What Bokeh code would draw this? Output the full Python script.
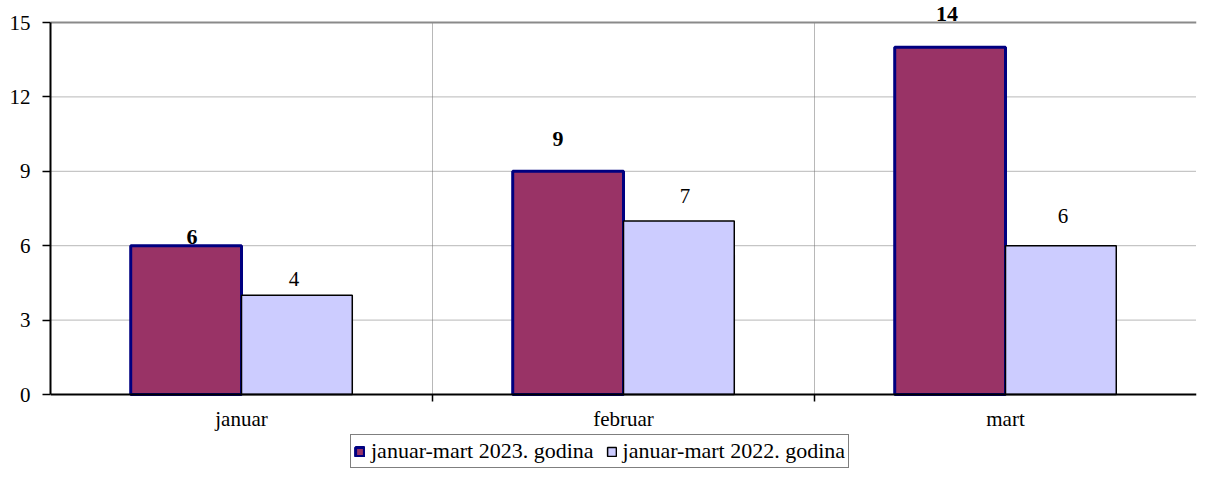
from bokeh.plotting import figure
from bokeh.models import (ColumnDataSource, FixedTicker, LabelSet, Legend,
                          LegendItem, Range1d)
from bokeh.embed import file_html
from bokeh.resources import INLINE

# ---- data ----
categories = ["januar", "februar", "mart"]
series_2023 = [6, 9, 14]
series_2022 = [4, 7, 6]
series_names = ["januar-mart 2023. godina", "januar-mart 2022. godina"]
y_ticks = [0, 3, 6, 9, 12, 15]

# ---- style / layout ----
FONT = "Liberation Serif"
BAR_W = 0.29
C23_FILL, C23_LINE = "#993366", "#000080"
C22_FILL, C22_LINE = "#CCCCFF", "#000000"
GRID_C = "#707070"
off23_x, off23_y = [6, -10, -3], [9, 32, 33]
off22_x, off22_y = [-3, 6, 2], [16, 25, 30]

FIG_W, FIG_H = 1198, 468
BORDER_L, BORDER_T, BORDER_R = 50, 2, 2
TOP_TICK_PX, ZERO_PX = 22, 394      # screen y of top tick and of zero line
y_min, y_max = y_ticks[0], y_ticks[-1]
ppu = (ZERO_PX - TOP_TICK_PX) / (y_max - y_min)
y_end = y_max + (TOP_TICK_PX - BORDER_T) / ppu
y_start = y_min - (FIG_H - ZERO_PX) / ppu

n = len(categories)
centers = [i + 0.5 for i in range(n)]
dividers = [i for i in range(1, n)]

src23 = ColumnDataSource(dict(
    x=[c - BAR_W / 2 for c in centers], top=series_2023,
    label=[str(v) for v in series_2023], dx=off23_x, dy=off23_y))
src22 = ColumnDataSource(dict(
    x=[c + BAR_W / 2 for c in centers], top=series_2022,
    label=[str(v) for v in series_2022], dx=off22_x, dy=off22_y))

p = figure(width=FIG_W, height=FIG_H, x_range=Range1d(0, n),
           y_range=Range1d(y_start, y_end),
           output_backend="svg", toolbar_location=None,
           min_border_left=BORDER_L, min_border_top=BORDER_T,
           min_border_right=BORDER_R, min_border_bottom=0)
p.outline_line_color = None
p.background_fill_color = "white"
p.xgrid.grid_line_color = None
p.ygrid.grid_line_color = None

# gridlines (data segments so they stay within the 0..15 plot area)
p.segment(x0=dividers, x1=dividers, y0=[y_min] * len(dividers),
          y1=[y_max] * len(dividers), line_color=GRID_C,
          line_dash="1 1", line_width=1)
p.segment(x0=[0] * (len(y_ticks) - 2), x1=[n] * (len(y_ticks) - 2),
          y0=y_ticks[1:-1], y1=y_ticks[1:-1], line_color=GRID_C,
          line_dash="1 1", line_width=1)
p.segment(x0=[0], x1=[n], y0=[y_max], y1=[y_max], line_color="#8a8a8a",
          line_width=2)

r23 = p.vbar(x="x", top="top", bottom=0, width=BAR_W, source=src23,
             fill_color=C23_FILL, line_color=C23_LINE, line_width=3)
r22 = p.vbar(x="x", top="top", bottom=0, width=BAR_W, source=src22,
             fill_color=C22_FILL, line_color=C22_LINE, line_width=1.5)

# value labels
p.add_layout(LabelSet(x="x", y="top", text="label", source=src23,
                      x_offset="dx", y_offset="dy", text_align="center",
                      text_baseline="middle", text_font=FONT,
                      text_font_size="22px", text_font_style="bold",
                      text_color="black"))
p.add_layout(LabelSet(x="x", y="top", text="label", source=src22,
                      x_offset="dx", y_offset="dy", text_align="center",
                      text_baseline="middle", text_font=FONT,
                      text_font_size="21px", text_color="black"))

# y axis
p.yaxis.ticker = FixedTicker(ticks=y_ticks)
p.yaxis.bounds = (y_min, y_max)
p.yaxis.axis_line_width = 2
p.yaxis.axis_line_color = "black"
p.yaxis.major_tick_out = 8
p.yaxis.major_tick_in = 0
p.yaxis.major_tick_line_width = 1.5
p.yaxis.major_tick_line_color = "black"
p.yaxis.minor_tick_line_color = None
p.yaxis.major_label_standoff = 12
p.yaxis.major_label_text_font = FONT
p.yaxis.major_label_text_font_size = "21px"
p.yaxis.major_label_text_color = "black"

# x axis drawn at y = 0 inside the frame
p.xaxis.fixed_location = y_min
p.xaxis.ticker = FixedTicker(ticks=centers, minor_ticks=dividers)
p.xaxis.major_label_overrides = {c: cat for c, cat in zip(centers, categories)}
p.xaxis.axis_line_width = 2
p.xaxis.axis_line_color = "black"
p.xaxis.major_tick_line_color = None
p.xaxis.major_tick_out = 0
p.xaxis.major_tick_in = 0
p.xaxis.minor_tick_out = 7
p.xaxis.minor_tick_in = 0
p.xaxis.minor_tick_line_width = 1.5
p.xaxis.minor_tick_line_color = "black"
p.xaxis.major_label_standoff = 5
p.xaxis.major_label_text_font = FONT
p.xaxis.major_label_text_font_size = "21px"
p.xaxis.major_label_text_color = "black"

legend = Legend(items=[LegendItem(label=series_names[0], renderers=[r23]),
                       LegendItem(label=series_names[1], renderers=[r22])],
                orientation="horizontal", location=(300, 0))
legend.border_line_color = "black"
legend.border_line_width = 1.5
legend.label_text_font = FONT
legend.label_text_font_size = "22px"
legend.label_text_color = "black"
legend.glyph_width = 11
legend.glyph_height = 11
legend.label_height = 20
legend.label_standoff = 6
legend.spacing = 12
legend.padding = 3
legend.margin = 0
legend.background_fill_alpha = 1
p.add_layout(legend, "center")

open("out.html", "w").write(file_html(p, INLINE))
